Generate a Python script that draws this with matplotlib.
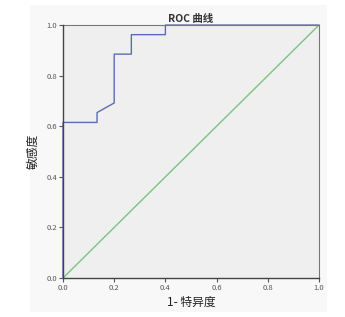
import matplotlib.pyplot as plt
from matplotlib.patches import Rectangle

plt.rcParams['font.family'] = ['Noto Sans CJK SC', 'DejaVu Sans']

# ROC curve points (1 - specificity, sensitivity)
fpr = [0.0, 0.0, 0.133, 0.133, 0.2, 0.2, 0.267, 0.267, 0.4, 0.4, 1.0]
tpr = [0.0, 0.615, 0.615, 0.654, 0.692, 0.885, 0.885, 0.962, 0.962, 1.0, 1.0]
ref_line = [0.0, 1.0]
ticks = [0.0, 0.2, 0.4, 0.6, 0.8, 1.0]
tick_labels = ['0.0', '0.2', '0.4', '0.6', '0.8', '1.0']

fig = plt.figure(figsize=(3.45, 3.17), dpi=100)
fig.patches.append(Rectangle((0.087, 0.016), 0.861, 0.968, transform=fig.transFigure,
                             facecolor='#f8f8f8', edgecolor='none', zorder=-5))

ax = fig.add_axes([0.1826, 0.123, 0.742, 0.798])
ax.set_zorder(1)
ax.set_facecolor('#efefef')

ax.plot(ref_line, ref_line, color='#79c47f', lw=1.0)
ax.plot(fpr, tpr, color='#5a6db4', lw=1.0, clip_on=False)

ax.set_xlim(0, 1)
ax.set_ylim(0, 1)
ax.set_xticks(ticks)
ax.set_xticklabels(tick_labels)
ax.set_yticks(ticks)
ax.set_yticklabels(tick_labels)
ax.tick_params(labelsize=5.5, colors='#555555', length=3, width=0.8, pad=1)

for side in ['left', 'bottom']:
    ax.spines[side].set_color('#444444')
    ax.spines[side].set_linewidth(1.0)
    ax.spines[side].set_zorder(3)
for side in ['top', 'right']:
    ax.spines[side].set_color('#777777')
    ax.spines[side].set_linewidth(0.8)

ax.set_title('ROC 曲线', fontsize=7.5, fontweight='bold', color='#333333', pad=2)
ax.set_xlabel('1- 特异度', fontsize=8.5, color='#222222', labelpad=3)
ax.set_ylabel('敏感度', fontsize=8.5, color='#222222', labelpad=5)

fig.savefig('out.png', dpi=100)
